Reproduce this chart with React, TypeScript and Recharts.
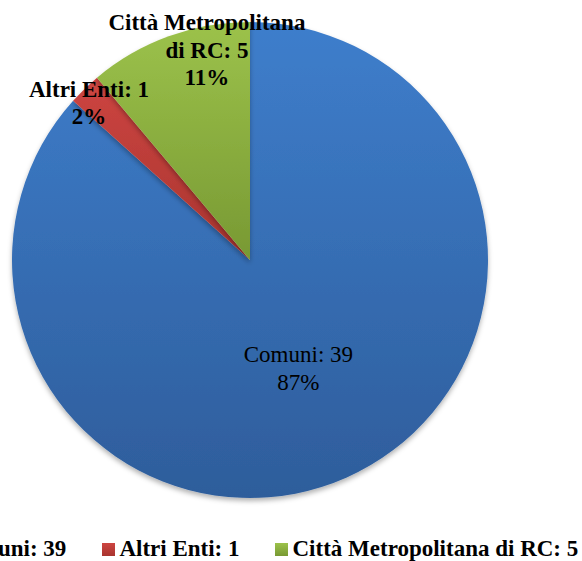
import { PieChart, Pie, Cell, Legend } from "recharts";

const categories = ["Comuni", "Altri Enti", "Città Metropolitana di RC"];
const counts = [39, 1, 5];
const colorsTop = ["#3e7ecc", "#cd4541", "#9cc24b"];
const colorsBottom = ["#2e5d9b", "#a8342f", "#789933"];

const data = categories.map((name, i) => ({ name, value: counts[i] }));

// where Excel put each data label: fraction of radius + small angle nudge
const labelPlace = [
  { r: 0.5, turn: 0, bold: false },
  { r: 0.945, turn: 1.7, bold: true },
  { r: 0.9, turn: -8.4, bold: true },
];

const FONT = "Liberation Serif, DejaVu Serif";
const RAD = Math.PI / 180;

const wrap = (text: string, max: number) => {
  const out: string[] = [];
  let cur = "";
  text.split(" ").forEach((w) => {
    const next = cur ? cur + " " + w : w;
    if (next.length > max && cur) {
      out.push(cur);
      cur = w;
    } else {
      cur = next;
    }
  });
  if (cur) out.push(cur);
  return out;
};

const renderLabel = (props: any) => {
  const { cx, cy, midAngle, outerRadius, index, name, value, percent } = props;
  const place = labelPlace[index];
  const a = (midAngle + place.turn) * RAD;
  const r = outerRadius * place.r;
  const x = cx + r * Math.cos(a);
  const y = cy - r * Math.sin(a);
  const lines = [...wrap(`${name}: ${value}`, 20), `${Math.round(percent * 100)}%`];
  const lh = 27.5;
  const y0 = y - ((lines.length - 1) * lh) / 2;
  return (
    <g>
      {lines.map((t, i) => (
        <text
          key={i}
          x={x}
          y={y0 + i * lh}
          textAnchor="middle"
          dominantBaseline="central"
          fill="#000"
          style={{ fontFamily: FONT }}
          fontSize={23}
          fontWeight={place.bold ? "bold" : "normal"}
        >
          {t}
        </text>
      ))}
    </g>
  );
};

const renderLegend = () => (
  <div
    style={{
      display: "flex",
      justifyContent: "center",
      alignItems: "center",
      whiteSpace: "nowrap",
      fontFamily: FONT,
      fontSize: 23,
      fontWeight: "bold",
      color: "#000",
      gap: 36,
    }}
  >
    {data.map((d, i) => (
      <div key={d.name} style={{ display: "flex", alignItems: "center" }}>
        <span
          style={{
            display: "inline-block",
            width: 13,
            height: 13,
            marginRight: 4,
            background: `linear-gradient(${colorsTop[i]}, ${colorsBottom[i]})`,
          }}
        />
        <span>{`${d.name}: ${d.value}`}</span>
      </div>
    ))}
  </div>
);

export default function App() {
  return (
    <div style={{ position: "absolute", left: 0, top: 0, width: 582, height: 561, overflow: "hidden", background: "#fff" }}>
      <PieChart width={582} height={561} margin={{ top: 0, right: 0, bottom: 0, left: 0 }}>
        <defs>
          {categories.map((c, i) => (
            <linearGradient key={c} id={`grad${i}`} x1="0" y1="0" x2="0" y2="1">
              <stop offset="0%" stopColor={colorsTop[i]} />
              <stop offset="100%" stopColor={colorsBottom[i]} />
            </linearGradient>
          ))}
          <filter id="shade" x="-10%" y="-10%" width="120%" height="120%">
            <feDropShadow dx="0" dy="3" stdDeviation="2.5" floodColor="#000" floodOpacity="0.3" />
          </filter>
        </defs>
        <Pie
          data={data}
          dataKey="value"
          nameKey="name"
          cx={250}
          cy={260}
          outerRadius={238}
          startAngle={90}
          endAngle={-270}
          stroke="none"
          label={renderLabel}
          labelLine={false}
          isAnimationActive={false}
        >
          {data.map((d, i) => (
            <Cell key={d.name} fill={`url(#grad${i})`} filter="url(#shade)" />
          ))}
        </Pie>
        <Legend
          content={renderLegend}
          wrapperStyle={{ left: -200, width: 912, top: 536, bottom: "auto" }}
        />
      </PieChart>
    </div>
  );
}
